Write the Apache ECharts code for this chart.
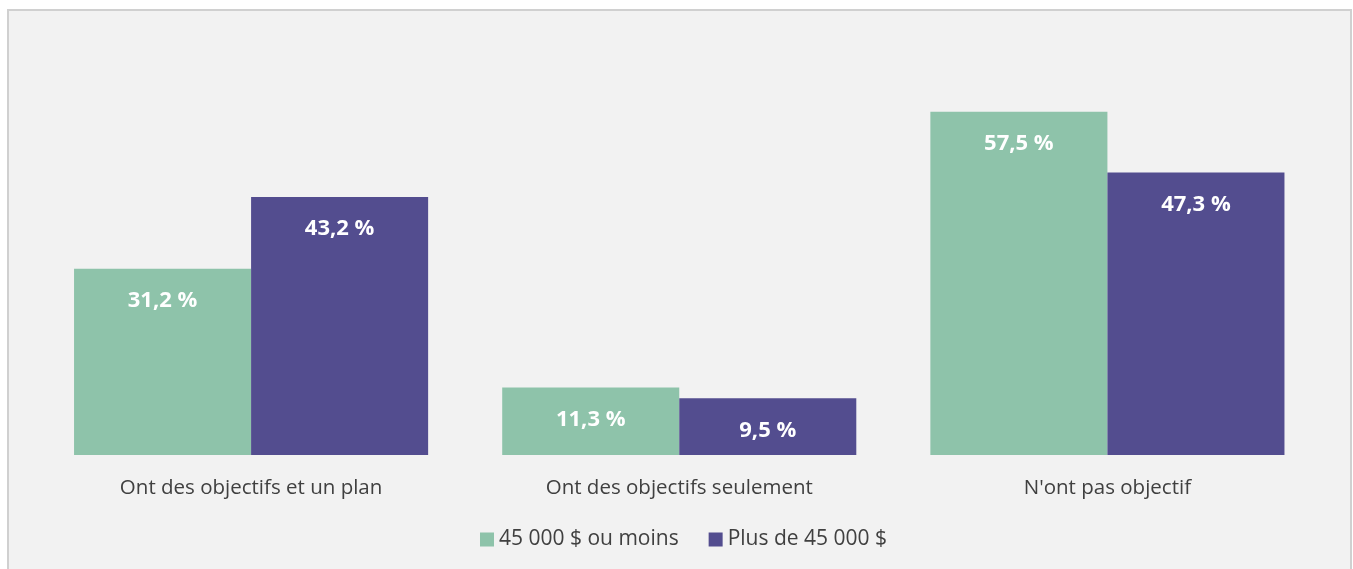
<!DOCTYPE html>
<html>
<head>
<meta charset="utf-8">
<script src="https://cdn.jsdelivr.net/npm/echarts@6/dist/echarts.min.js"></script>
<style>
	body { margin: 0; background: #ffffff; }
	#frame { position: absolute; left: 7px; top: 9px; width: 1341px; height: 600px; border: 2px solid #d0d0d0; border-bottom: none; background: #f2f2f2; }
	#main { position: absolute; left: 0; top: 0; width: 1353px; height: 569px; }
</style>
</head>
<body>
<div id="frame"></div>
<div id="main"></div>
<script>
	// données du graphique
	var categories = ['Ont des objectifs et un plan', 'Ont des objectifs seulement', "N'ont pas objectif"];
	var seriesNames = ['45 000 $ ou moins', 'Plus de 45 000 $'];
	var lowIncome = [31.2, 11.3, 57.5];
	var highIncome = [43.2, 9.5, 47.3];
	var colors = ['#8ec3aa', '#534d8f'];

	var myChart = echarts.init(document.getElementById('main'));

	function barLabel() {
		return {
			show: true,
			position: 'insideTop',
			distance: 21,
			color: '#ffffff',
			fontWeight: 'bold',
			fontSize: 22,
			fontFamily: 'Open Sans',
			formatter: function(p) {
				return p.value.toFixed(1).replace('.', ',') + ' %';
			}
		};
	}

	option = {
		backgroundColor: 'transparent',
		animation: false,
		color: colors,
		legend: {
			top: 524,
			left: 475,
			itemWidth: 14,
			itemHeight: 14,
			itemGap: 30,
			icon: 'rect',
			textStyle: {
				color: '#404040',
				fontSize: 21,
				fontFamily: 'Open Sans'
			},
			data: seriesNames
		},
		grid: {
			left: 37,
			right: 31.5,
			top: 37,
			bottom: 114
		},
		xAxis: {
			type: 'category',
			data: categories,
			axisLine: { show: false },
			axisTick: { show: false },
			axisLabel: {
				margin: 23,
				color: '#404040',
				fontSize: 20.5,
				fontFamily: 'Open Sans'
			}
		},
		yAxis: {
			type: 'value',
			min: 0,
			max: 70,
			show: false,
			splitLine: { show: false }
		},
		series: [{
			name: seriesNames[0],
			type: 'bar',
			data: lowIncome,
			barGap: 0,
			barCategoryGap: '17.3%',
			itemStyle: { color: colors[0] },
			label: barLabel()
		}, {
			name: seriesNames[1],
			type: 'bar',
			data: highIncome,
			itemStyle: { color: colors[1] },
			label: barLabel()
		}]
	};

	myChart.setOption(option);
</script>
</body>
</html>
